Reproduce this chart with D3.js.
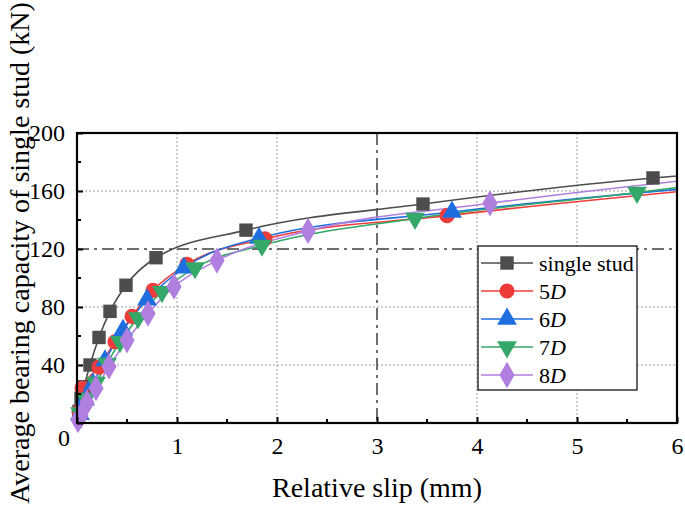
<!DOCTYPE html>
<html>
<head>
<meta charset="utf-8">
<script src="https://cdn.jsdelivr.net/npm/d3@7"></script>
<style>
  html, body { margin: 0; padding: 0; background: #fff; }
  svg { display: block; }
  text { font-family: "Liberation Serif", "Times New Roman", Times, "DejaVu Serif", serif; fill: #000; }
</style>
</head>
<body>
<svg id="chart" width="685" height="512"></svg>
<script>
// ---------- data ----------
const seriesNames = ["single stud", "5D", "6D", "7D", "8D"];
const singleStud = [[0,0],[0.02,8],[0.04,17],[0.07,25],[0.13,40],[0.22,59],[0.33,77],[0.49,95],[0.79,114],[1.69,133],[3.46,151],[5.76,169],[6.3,172]];
const d5 = [[0,0],[0.02,8],[0.05,24],[0.22,38.5],[0.38,56],[0.55,73.5],[0.76,91.5],[1.10,109.5],[1.88,127],[3.70,143],[6.3,161.5]];
const d6 = [[0,0],[0.03,6],[0.08,16],[0.16,27],[0.28,43],[0.46,64],[0.70,85],[1.07,107],[1.82,127.5],[3.75,145.5],[6.3,163]];
const d7 = [[0,0],[0.03,7],[0.09,17],[0.19,28],[0.30,41],[0.43,56],[0.61,72.5],[0.85,90.5],[1.18,107],[1.85,122.5],[3.38,141],[5.60,159],[6.3,165]];
const d8 = [[0,0],[0.01,2],[0.04,5],[0.10,14],[0.19,24],[0.32,39],[0.50,57],[0.71,75.5],[0.97,94],[1.40,112],[2.31,132.5],[4.13,151.5],[6.3,169]];
const xTicks = [0, 1, 2, 3, 4, 5, 6];
const yTicks = [0, 40, 80, 120, 160, 200];
const xMinor = [0.5, 1.5, 2.5, 3.5, 4.5, 5.5];
const yMinor = [20, 60, 100, 140, 180];
const refX = 3;     // dash-dot reference line
const refY = 120;   // dash-dot reference line

// ---------- styles ----------
const FONT = '"Liberation Serif", "Times New Roman", Times, "DejaVu Serif", serif';
const colors = ["#4d4d4d", "#ee3c3a", "#1f6ee0", "#34a868", "#b07fe0"];
const shapes = [d3.symbolSquare, d3.symbolCircle, d3.symbolTriangle, "tri-down", d3.symbolDiamond];
const sizes = [180, 180, 170, 170, 200];
const allData = [singleStud, d5, d6, d7, d8];

const svg = d3.select("#chart");
const L = 77, R = 677, T = 133, B = 423;
const x = d3.scaleLinear().domain([0, 6]).range([L, R]);
const y = d3.scaleLinear().domain([0, 200]).range([B, T]);

svg.append("defs").append("clipPath").attr("id", "clip")
  .append("rect").attr("x", L).attr("y", T).attr("width", R - L).attr("height", B - T);

// grid
const grid = svg.append("g");
grid.selectAll(".gx").data(xTicks.filter(v => v > 0 && v < 6 && v !== refX)).join("line")
  .attr("x1", d => x(d)).attr("x2", d => x(d)).attr("y1", T).attr("y2", B)
  .attr("stroke", "#9a9a9a").attr("stroke-width", 1).attr("stroke-dasharray", "2,2");
grid.selectAll(".gy").data(yTicks.filter(v => v > 0 && v < 200 && v !== refY)).join("line")
  .attr("y1", d => y(d)).attr("y2", d => y(d)).attr("x1", L).attr("x2", R)
  .attr("stroke", "#9a9a9a").attr("stroke-width", 1).attr("stroke-dasharray", "2,2");
grid.append("line").attr("x1", x(refX)).attr("x2", x(refX)).attr("y1", T).attr("y2", B)
  .attr("stroke", "#6e6e6e").attr("stroke-width", 2).attr("stroke-dasharray", "12,5,3,5");
grid.append("line").attr("x1", L).attr("x2", R).attr("y1", y(refY)).attr("y2", y(refY))
  .attr("stroke", "#6e6e6e").attr("stroke-width", 2).attr("stroke-dasharray", "12,5,3,5");

function symPath(shape, size) {
  if (shape === "tri-down") return d3.symbol(d3.symbolTriangle, size)();
  return d3.symbol(shape, size)();
}
function symTransform(shape, px, py) {
  if (shape === "tri-down") return `translate(${px},${py}) rotate(180)`;
  return `translate(${px},${py})`;
}

// lines & markers
const plot = svg.append("g").attr("clip-path", "url(#clip)");
const line = d3.line().x(d => x(d[0])).y(d => y(d[1])).curve(d3.curveMonotoneX);
allData.forEach((data, i) => {
  plot.append("path").datum(data).attr("d", line)
    .attr("fill", "none").attr("stroke", colors[i]).attr("stroke-width", 1.6);
});
allData.forEach((data, i) => {
  svg.append("g").selectAll("path").data(data.filter(d => d[0] > 0 && d[0] <= 6)).join("path")
    .attr("d", symPath(shapes[i], sizes[i]))
    .attr("transform", d => symTransform(shapes[i], x(d[0]), y(d[1])))
    .attr("fill", colors[i]);
});

// axes
const xAxis = svg.append("g").attr("transform", `translate(0,${B})`)
  .call(d3.axisBottom(x).tickValues(xTicks).tickFormat(d3.format("d")).tickSizeInner(-6).tickSizeOuter(0).tickPadding(14));
const yAxis = svg.append("g").attr("transform", `translate(${L},0)`)
  .call(d3.axisLeft(y).tickValues(yTicks).tickFormat(d3.format("d")).tickSizeInner(-6).tickSizeOuter(0).tickPadding(12));
[xAxis, yAxis].forEach(a => {
  a.attr("font-family", FONT).attr("font-size", 24);
  a.select(".domain").remove();
  a.selectAll("line").attr("stroke", "#000").attr("stroke-width", 2);
  a.selectAll("text").attr("font-size", 24).style("font-family", FONT);
});
xAxis.selectAll(".tick").filter(d => d === 0).select("text").remove();
yAxis.selectAll(".tick").filter(d => d === 0).select("text")
  .attr("dy", "0.32em").attr("transform", "translate(0,15)").attr("x", -7);
svg.append("g").selectAll("line").data(xMinor).join("line")
  .attr("x1", d => x(d)).attr("x2", d => x(d)).attr("y1", B).attr("y2", B - 4)
  .attr("stroke", "#000").attr("stroke-width", 2);
svg.append("g").selectAll("line").data(yMinor).join("line")
  .attr("y1", d => y(d)).attr("y2", d => y(d)).attr("x1", L).attr("x2", L + 4)
  .attr("stroke", "#000").attr("stroke-width", 2);

// frame
svg.append("rect").attr("x", L).attr("y", T).attr("width", R - L).attr("height", B - T)
  .attr("fill", "none").attr("stroke", "#000").attr("stroke-width", 2.2);

// axis titles
svg.append("text").attr("x", (L + R) / 2).attr("y", 497).attr("text-anchor", "middle")
  .style("font-family", FONT).attr("font-size", 28).text("Relative slip (mm)");
svg.append("text").attr("transform", "translate(29,253) rotate(-90)").attr("text-anchor", "middle")
  .style("font-family", FONT).attr("font-size", 28).text("Average bearing capacity of single stud (kN)");

// legend
const lg = svg.append("g");
lg.append("rect").attr("x", 478).attr("y", 246).attr("width", 159).attr("height", 144)
  .attr("fill", "#fff").attr("stroke", "#000").attr("stroke-width", 1.2);
seriesNames.forEach((name, i) => {
  const cy = 263 + i * 28;
  lg.append("line").attr("x1", 481).attr("x2", 533).attr("y1", cy).attr("y2", cy)
    .attr("stroke", colors[i]).attr("stroke-width", 1.6);
  lg.append("path").attr("d", symPath(shapes[i], sizes[i]))
    .attr("transform", symTransform(shapes[i], 507, cy)).attr("fill", colors[i]);
  const t = lg.append("text").attr("x", 539).attr("y", cy + 8).attr("font-size", 22).style("font-family", FONT);
  if (i === 0) t.text(name);
  else {
    t.append("tspan").text(name.slice(0, -1));
    t.append("tspan").attr("font-style", "italic").text(name.slice(-1));
  }
});
</script>
</body>
</html>
